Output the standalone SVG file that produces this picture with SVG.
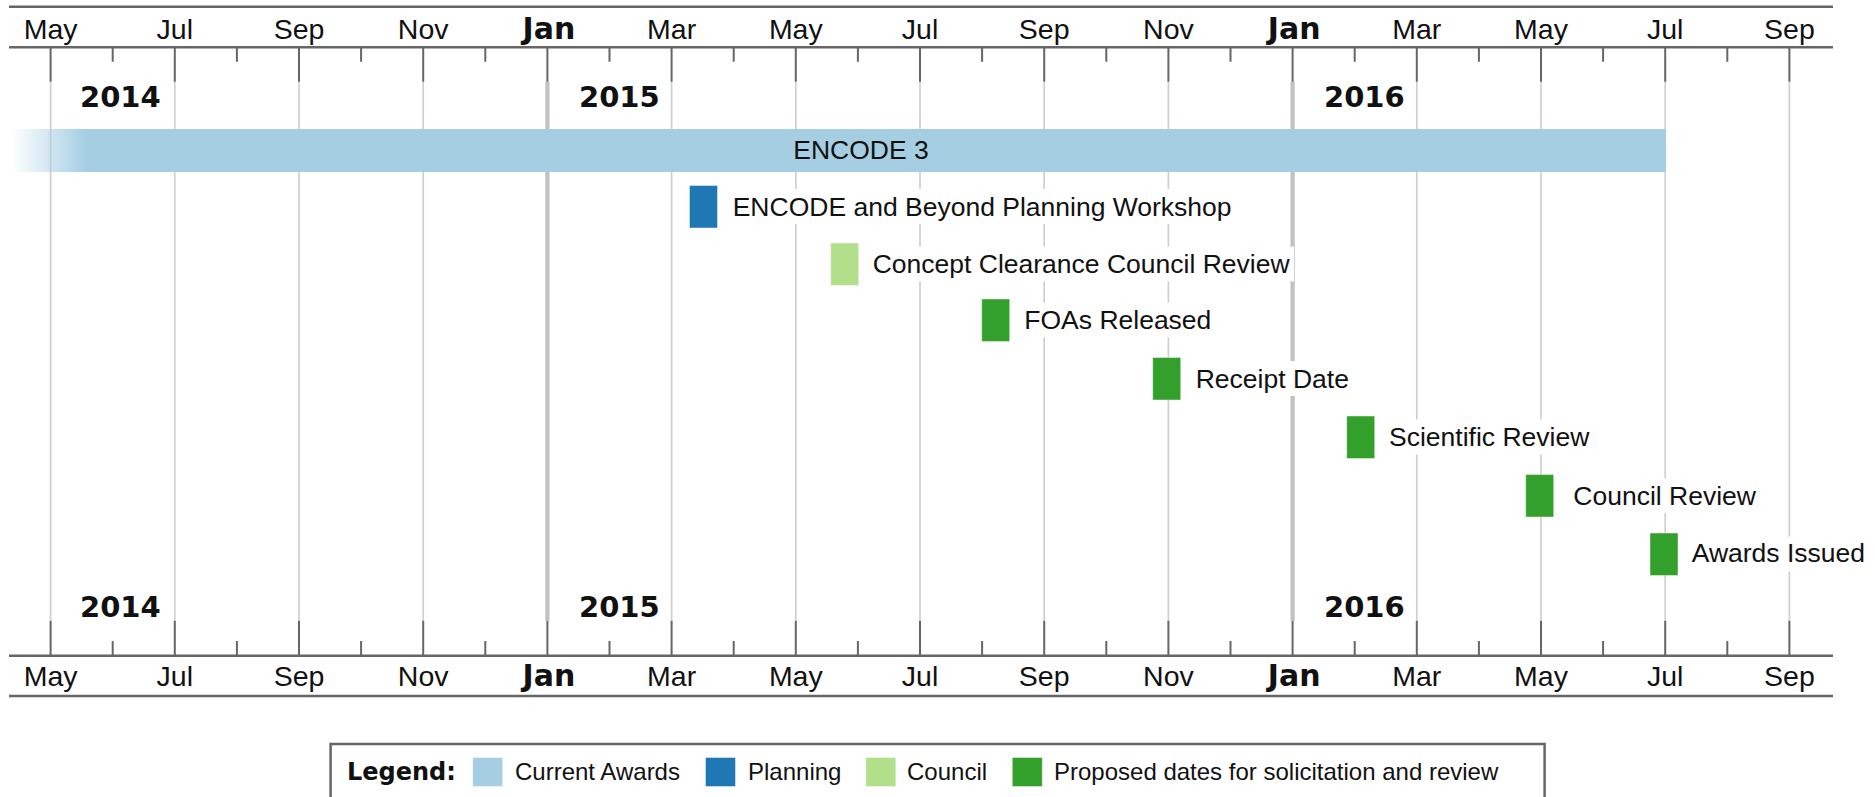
<svg xmlns="http://www.w3.org/2000/svg" width="1875" height="797" viewBox="0 0 1875 797">
  <defs>
    <linearGradient id="fadeIn" gradientUnits="userSpaceOnUse" x1="12" y1="0" x2="86" y2="0">
      <stop offset="0" stop-color="#a6cee3" stop-opacity="0"/>
      <stop offset="1" stop-color="#a6cee3" stop-opacity="1"/>
    </linearGradient>
    <style>
      .rule { stroke: #666; stroke-width: 2.5; }
      .tick { stroke: #666; stroke-width: 2; }
      .grid { stroke: #cfcfcf; stroke-width: 1.7; }
      .grid-year { stroke: #c2c2c2; stroke-width: 4.3; }
      .month { font-family: "Liberation Sans", Arial, sans-serif; font-size: 28.5px; fill: #111; text-anchor: middle; }
      .jan { font-family: "DejaVu Sans", Verdana, sans-serif; font-weight: bold; font-size: 30px; fill: #111; text-anchor: middle; }
      .year { font-family: "DejaVu Sans", Verdana, sans-serif; font-weight: bold; font-size: 29px; fill: #111; }
      .label { font-family: "Liberation Sans", Arial, sans-serif; font-size: 26.5px; fill: #111; }
      .label-bg { fill: #fff; }
      .bar { stroke: #fff; stroke-opacity: 0.45; stroke-width: 1; }
      .current { fill: #a6cee3; }
      .planning { fill: #1f78b4; }
      .council { fill: #b2df8a; }
      .proposed { fill: #33a02c; }
      .legend-box { fill: #fff; stroke: #666; stroke-width: 2.5; }
      .legend-title { font-family: "DejaVu Sans", Verdana, sans-serif; font-weight: bold; font-size: 24px; fill: #111; }
      .legend-text { font-family: "Liberation Sans", Arial, sans-serif; font-size: 24px; fill: #111; }
    </style>
  </defs>

  <rect width="1875" height="797" fill="#fff"/>

  <!-- vertical gridlines at every second month; January lines are heavier -->
  <g id="gridlines">
    <line class="grid" x1="50.6" y1="81.7" x2="50.6" y2="620.7"/>
    <line class="grid" x1="174.8" y1="81.7" x2="174.8" y2="620.7"/>
    <line class="grid" x1="299" y1="81.7" x2="299" y2="620.7"/>
    <line class="grid" x1="423.2" y1="81.7" x2="423.2" y2="620.7"/>
    <line class="grid-year" x1="547.4" y1="81.7" x2="547.4" y2="620.7"/>
    <line class="grid" x1="671.6" y1="81.7" x2="671.6" y2="620.7"/>
    <line class="grid" x1="795.8" y1="81.7" x2="795.8" y2="620.7"/>
    <line class="grid" x1="920" y1="81.7" x2="920" y2="620.7"/>
    <line class="grid" x1="1044.2" y1="81.7" x2="1044.2" y2="620.7"/>
    <line class="grid" x1="1168.4" y1="81.7" x2="1168.4" y2="620.7"/>
    <line class="grid-year" x1="1292.6" y1="81.7" x2="1292.6" y2="620.7"/>
    <line class="grid" x1="1416.8" y1="81.7" x2="1416.8" y2="620.7"/>
    <line class="grid" x1="1541" y1="81.7" x2="1541" y2="620.7"/>
    <line class="grid" x1="1665.2" y1="81.7" x2="1665.2" y2="620.7"/>
    <line class="grid" x1="1789.4" y1="81.7" x2="1789.4" y2="620.7"/>
  </g>

  <!-- top time axis -->
  <g id="axis-top">
    <line class="rule" x1="9" y1="6.7" x2="1833" y2="6.7"/>
    <line class="rule" x1="9" y1="47.3" x2="1833" y2="47.3"/>
    <path class="tick" d="M50.6 47.3V81.7 M174.8 47.3V81.7 M299 47.3V81.7 M423.2 47.3V81.7 M547.4 47.3V81.7 M671.6 47.3V81.7 M795.8 47.3V81.7 M920 47.3V81.7 M1044.2 47.3V81.7 M1168.4 47.3V81.7 M1292.6 47.3V81.7 M1416.8 47.3V81.7 M1541 47.3V81.7 M1665.2 47.3V81.7 M1789.4 47.3V81.7"/>
    <path class="tick" d="M112.7 47.3V61.7 M236.9 47.3V61.7 M361.1 47.3V61.7 M485.3 47.3V61.7 M609.5 47.3V61.7 M733.7 47.3V61.7 M857.9 47.3V61.7 M982.1 47.3V61.7 M1106.3 47.3V61.7 M1230.5 47.3V61.7 M1354.7 47.3V61.7 M1478.9 47.3V61.7 M1603.1 47.3V61.7 M1727.3 47.3V61.7"/>
    <text class="month" x="50.6" y="39">May</text>
    <text class="month" x="174.8" y="39">Jul</text>
    <text class="month" x="299" y="39">Sep</text>
    <text class="month" x="423.2" y="39">Nov</text>
    <text class="jan" x="549" y="39">Jan</text>
    <text class="month" x="671.6" y="39">Mar</text>
    <text class="month" x="795.8" y="39">May</text>
    <text class="month" x="920" y="39">Jul</text>
    <text class="month" x="1044.2" y="39">Sep</text>
    <text class="month" x="1168.4" y="39">Nov</text>
    <text class="jan" x="1294.2" y="39">Jan</text>
    <text class="month" x="1416.8" y="39">Mar</text>
    <text class="month" x="1541" y="39">May</text>
    <text class="month" x="1665.2" y="39">Jul</text>
    <text class="month" x="1789.4" y="39">Sep</text>
    <text class="year" x="80" y="107.3">2014</text>
    <text class="year" x="579" y="107.3">2015</text>
    <text class="year" x="1324" y="107.3">2016</text>
  </g>

  <!-- bottom time axis -->
  <g id="axis-bottom">
    <line class="rule" x1="9" y1="655.7" x2="1833" y2="655.7"/>
    <line class="rule" x1="9" y1="696" x2="1833" y2="696"/>
    <path class="tick" d="M50.6 620.7V655.7 M174.8 620.7V655.7 M299 620.7V655.7 M423.2 620.7V655.7 M547.4 620.7V655.7 M671.6 620.7V655.7 M795.8 620.7V655.7 M920 620.7V655.7 M1044.2 620.7V655.7 M1168.4 620.7V655.7 M1292.6 620.7V655.7 M1416.8 620.7V655.7 M1541 620.7V655.7 M1665.2 620.7V655.7 M1789.4 620.7V655.7"/>
    <path class="tick" d="M112.7 641V655.7 M236.9 641V655.7 M361.1 641V655.7 M485.3 641V655.7 M609.5 641V655.7 M733.7 641V655.7 M857.9 641V655.7 M982.1 641V655.7 M1106.3 641V655.7 M1230.5 641V655.7 M1354.7 641V655.7 M1478.9 641V655.7 M1603.1 641V655.7 M1727.3 641V655.7"/>
    <text class="month" x="50.6" y="686">May</text>
    <text class="month" x="174.8" y="686">Jul</text>
    <text class="month" x="299" y="686">Sep</text>
    <text class="month" x="423.2" y="686">Nov</text>
    <text class="jan" x="549" y="686">Jan</text>
    <text class="month" x="671.6" y="686">Mar</text>
    <text class="month" x="795.8" y="686">May</text>
    <text class="month" x="920" y="686">Jul</text>
    <text class="month" x="1044.2" y="686">Sep</text>
    <text class="month" x="1168.4" y="686">Nov</text>
    <text class="jan" x="1294.2" y="686">Jan</text>
    <text class="month" x="1416.8" y="686">Mar</text>
    <text class="month" x="1541" y="686">May</text>
    <text class="month" x="1665.2" y="686">Jul</text>
    <text class="month" x="1789.4" y="686">Sep</text>
    <text class="year" x="80" y="617.3">2014</text>
    <text class="year" x="579" y="617.3">2015</text>
    <text class="year" x="1324" y="617.3">2016</text>
  </g>

  <!-- timeline entries -->
  <g id="encode3">
    <rect x="12" y="129" width="1654" height="43" fill="url(#fadeIn)"/>
    <text class="label" x="861" y="158.5" text-anchor="middle">ENCODE 3</text>
  </g>

  <g id="planning-workshop">
    <rect class="label-bg" x="729" y="189" width="507" height="35"/>
    <rect class="bar planning" x="689.5" y="185.5" width="28" height="42.5"/>
    <text class="label" x="732.7" y="215.5">ENCODE and Beyond Planning Workshop</text>
  </g>

  <g id="concept-clearance">
    <rect class="label-bg" x="869" y="246.5" width="425" height="35"/>
    <rect class="bar council" x="830.7" y="243" width="28" height="42.5"/>
    <text class="label" x="872.7" y="273">Concept Clearance Council Review</text>
  </g>

  <g id="foas-released">
    <rect class="label-bg" x="1020" y="302.5" width="195" height="35"/>
    <rect class="bar proposed" x="981.7" y="299" width="28" height="42.5"/>
    <text class="label" x="1024.3" y="329">FOAs Released</text>
  </g>

  <g id="receipt-date">
    <rect class="label-bg" x="1191.5" y="361" width="161" height="35"/>
    <rect class="bar proposed" x="1152.7" y="357.5" width="28" height="42.5"/>
    <text class="label" x="1195.7" y="387.5">Receipt Date</text>
  </g>

  <g id="scientific-review">
    <rect class="label-bg" x="1385" y="419.5" width="208" height="35"/>
    <rect class="bar proposed" x="1346.7" y="416" width="28" height="42.5"/>
    <text class="label" x="1389" y="446">Scientific Review</text>
  </g>

  <g id="council-review">
    <rect class="label-bg" x="1569" y="478" width="190" height="35"/>
    <rect class="bar proposed" x="1525.7" y="474.5" width="28" height="42.5"/>
    <text class="label" x="1573.3" y="504.5">Council Review</text>
  </g>

  <g id="awards-issued">
    <rect class="label-bg" x="1687.5" y="536.5" width="182" height="35"/>
    <rect class="bar proposed" x="1650" y="533" width="28" height="42.5"/>
    <text class="label" x="1691.7" y="562">Awards Issued</text>
  </g>

  <!-- connectors: none in this timeline -->
  <g id="connectors"/>

  <!-- legend -->
  <g id="legend">
    <rect class="legend-box" x="330.6" y="744" width="1214" height="70"/>
    <text class="legend-title" x="347" y="780">Legend:</text>
    <rect class="bar current" x="472.7" y="757.5" width="30" height="29"/>
    <text class="legend-text" x="515" y="780">Current Awards</text>
    <rect class="bar planning" x="705.5" y="757.5" width="30" height="29"/>
    <text class="legend-text" x="748" y="780">Planning</text>
    <rect class="bar council" x="865.8" y="757.5" width="30" height="29"/>
    <text class="legend-text" x="907" y="780">Council</text>
    <rect class="bar proposed" x="1012.3" y="757.5" width="30" height="29"/>
    <text class="legend-text" x="1054" y="780">Proposed dates for solicitation and review</text>
  </g>
</svg>
